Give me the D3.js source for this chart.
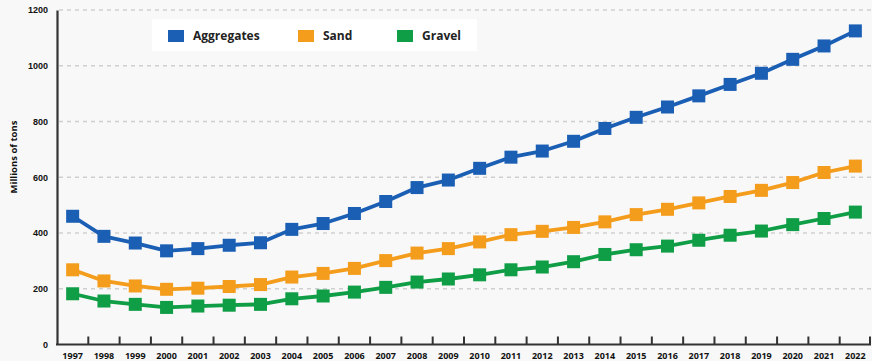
<!DOCTYPE html>
<html>
<head>
<meta charset="utf-8">
<script src="https://cdn.jsdelivr.net/npm/d3@7"></script>
<style>
  html, body { margin: 0; padding: 0; background: #f8f8f8; }
  svg { display: block; font-family: "Open Sans", "Liberation Sans", sans-serif; }
</style>
</head>
<body>
<svg id="chart" width="872" height="361"></svg>
<script>
// Annual production, millions of tons
const years = ["1997","1998","1999","2000","2001","2002","2003","2004","2005","2006","2007","2008","2009",
  "2010","2011","2012","2013","2014","2015","2016","2017","2018","2019","2020","2021","2022"];
const aggregates = [460, 388, 364, 336, 344, 356, 365, 413, 434, 470, 513, 563, 590, 632, 672, 694, 729,
  775, 815, 852, 892, 933, 973, 1023, 1071, 1125];
const sand = [268, 228, 210, 198, 202, 208, 215, 242, 255, 273, 301, 328, 344, 368, 394, 406, 420,
  440, 466, 485, 508, 531, 553, 581, 617, 640];
const gravel = [182, 156, 144, 133, 138, 141, 144, 164, 174, 188, 205, 224, 235, 250, 268, 278, 297,
  323, 340, 353, 374, 392, 407, 430, 452, 475];
const yTicks = [0, 200, 400, 600, 800, 1000, 1200];

const seriesNames = ["Aggregates", "Sand", "Gravel"];
const seriesColors = ["#1b5fb5", "#f49c1c", "#0f9d46"];
const series = [aggregates, sand, gravel].map((vals, i) => ({
  name: seriesNames[i], color: seriesColors[i],
  points: years.map((y, j) => ({ year: y, value: vals[j] }))
}));

const svg = d3.select("#chart");
const plotLeft = 57, plotRight = 871, plotTop = 10, plotBottom = 344.5;

const x = d3.scaleBand().domain(years).range([plotLeft, plotRight]).padding(0);
const y = d3.scaleLinear().domain([0, 1200]).range([plotBottom, plotTop]);

// horizontal dashed gridlines
svg.append("g")
  .selectAll("line")
  .data(yTicks.filter(d => d > 0))
  .join("line")
  .attr("x1", plotLeft + 2).attr("x2", plotRight)
  .attr("y1", d => y(d)).attr("y2", d => y(d))
  .attr("stroke", "#cfcfcf")
  .attr("stroke-width", 1.5)
  .attr("stroke-dasharray", "4,4");

// y axis
const yAxis = svg.append("g")
  .attr("transform", `translate(${plotLeft},0)`)
  .call(d3.axisLeft(y).tickValues(yTicks).tickFormat(d3.format("d")).tickSize(0).tickPadding(9));
yAxis.select(".domain").attr("stroke", "#333").attr("stroke-width", 2.2);
yAxis.selectAll("text")
  .attr("font-size", 9).attr("font-weight", 700).attr("fill", "#111");

// x axis: inward ticks on category boundaries, labels centred in bands
const xg = svg.append("g").attr("transform", `translate(0,${plotBottom})`);
xg.append("line")
  .attr("x1", plotLeft - 1).attr("x2", plotRight)
  .attr("stroke", "#333").attr("stroke-width", 2.2);
xg.selectAll("line.tick")
  .data(years.slice(1).concat(["end"]))
  .join("line")
  .attr("class", "tick")
  .attr("x1", d => d === "end" ? plotRight - 1 : x(d))
  .attr("x2", d => d === "end" ? plotRight - 1 : x(d))
  .attr("y1", 0).attr("y2", -8)
  .attr("stroke", "#333").attr("stroke-width", 2);
xg.selectAll("text")
  .data(years)
  .join("text")
  .attr("x", d => x(d) + x.bandwidth() / 2)
  .attr("y", 11)
  .attr("dy", "0.35em")
  .attr("text-anchor", "middle")
  .attr("font-size", 9).attr("font-weight", 700).attr("fill", "#111")
  .text(d => d);

// y axis title
svg.append("text")
  .attr("transform", "translate(14,157) rotate(-90)")
  .attr("text-anchor", "middle")
  .attr("dy", "0.35em")
  .attr("font-size", 9.5).attr("font-weight", 700).attr("fill", "#111")
  .text("Millions of tons");

// series lines and square markers
const line = d3.line()
  .x(d => x(d.year) + x.bandwidth() / 2)
  .y(d => y(d.value));

const sg = svg.append("g").selectAll("g").data(series).join("g");
sg.append("path")
  .attr("d", d => line(d.points))
  .attr("fill", "none")
  .attr("stroke", d => d.color)
  .attr("stroke-width", 3.8)
  .attr("stroke-linejoin", "round");
const ms = 13;
sg.selectAll("rect")
  .data(d => d.points.map(p => ({ ...p, color: d.color })))
  .join("rect")
  .attr("x", d => x(d.year) + x.bandwidth() / 2 - ms / 2)
  .attr("y", d => y(d.value) - ms / 2)
  .attr("width", ms).attr("height", ms)
  .attr("fill", d => d.color);

// legend
const legend = svg.append("g");
legend.append("rect")
  .attr("x", 152).attr("y", 19).attr("width", 325).attr("height", 32)
  .attr("fill", "#ffffff");
const legendX = [168, 298, 397];
const items = legend.selectAll("g.item").data(series).join("g")
  .attr("class", "item")
  .attr("transform", (d, i) => `translate(${legendX[i]},30)`);
items.append("rect")
  .attr("width", 16).attr("height", 12)
  .attr("fill", d => d.color);
items.append("text")
  .attr("x", 25).attr("y", 6).attr("dy", "0.35em")
  .attr("font-size", 12).attr("font-weight", 700).attr("fill", "#222")
  .text(d => d.name);
</script>
</body>
</html>
